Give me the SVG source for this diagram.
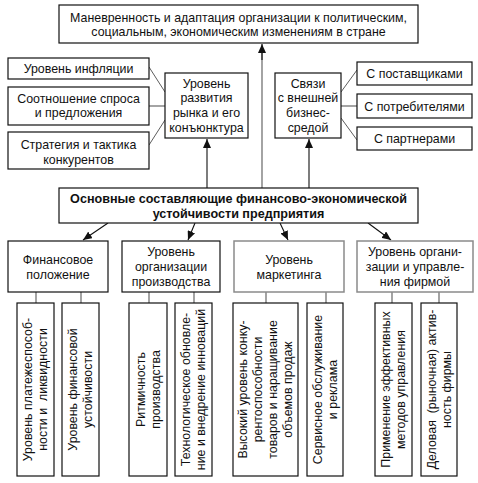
<svg xmlns="http://www.w3.org/2000/svg" width="478" height="483" viewBox="0 0 478 483">
<defs>
<marker id="ah" markerUnits="userSpaceOnUse" markerWidth="10" markerHeight="8" refX="9" refY="4" orient="auto">
<path d="M0,0 L9,4 L0,8 z" fill="#111"/>
</marker>
<style>
.b{fill:#fff;stroke:#111;stroke-width:1.2}
.g{fill:#fff;stroke:#8a8a8a;stroke-width:1.5}
text{font-family:"Liberation Sans",Arial,sans-serif;font-size:12.4px;fill:#111;text-anchor:middle}
.bold{font-weight:bold;font-size:12.6px}
.ln{stroke:#111;stroke-width:1.1;fill:none}
.thin{stroke:#333;stroke-width:0.8;fill:none}
.gl{stroke:#9a9a9a;stroke-width:1.8;fill:none}
</style>
</defs>
<rect width="478" height="483" fill="#fff"/>

<g id="connectors">
<line class="gl" x1="262" y1="188" x2="262" y2="52"/>
<line class="ln" x1="262" y1="60" x2="262" y2="44" marker-end="url(#ah)"/>
<line class="ln" x1="207" y1="188" x2="207" y2="139" marker-end="url(#ah)"/>
<line class="ln" x1="309" y1="188" x2="309" y2="139" marker-end="url(#ah)"/>
<line class="thin" x1="149" y1="67" x2="165" y2="92"/>
<line class="gl" x1="149" y1="106" x2="165" y2="106"/>
<line class="thin" x1="149" y1="145" x2="165" y2="120"/>
<line class="thin" x1="341" y1="92" x2="357" y2="70"/>
<line class="gl" x1="341" y1="106" x2="357" y2="106"/>
<line class="thin" x1="341" y1="118" x2="357" y2="140"/>
<line class="ln" x1="108" y1="223" x2="83" y2="240" marker-end="url(#ah)"/>
<line class="ln" x1="195" y1="223" x2="188" y2="240" marker-end="url(#ah)"/>
<line class="ln" x1="280" y1="223" x2="288" y2="240" marker-end="url(#ah)"/>
<line class="ln" x1="368" y1="223" x2="391" y2="240" marker-end="url(#ah)"/>
<line class="gl" x1="36" y1="292" x2="36" y2="303"/>
<line class="gl" x1="81" y1="292" x2="81" y2="303"/>
<line class="gl" x1="149" y1="292" x2="149" y2="303"/>
<line class="gl" x1="194" y1="292" x2="194" y2="303"/>
<line class="gl" x1="266" y1="292" x2="266" y2="303"/>
<line class="gl" x1="326" y1="292" x2="326" y2="303"/>
<line class="gl" x1="392" y1="292" x2="392" y2="303"/>
<line class="gl" x1="439" y1="292" x2="439" y2="303"/>
</g>

<g id="top">
<rect class="b" x="59" y="5" width="359" height="38"/>
<text x="238.5" y="22">Маневренность и адаптация организации к политическим,</text>
<text x="238.5" y="36">социальным, экономическим изменениям в стране</text>
</g>

<g id="inflation">
<rect class="b" x="8" y="58" width="141" height="21"/>
<text x="78.5" y="72.5">Уровень инфляции</text>
</g>
<g id="supply">
<rect class="b" x="8" y="87" width="141" height="38"/>
<text x="78.5" y="102.5">Соотношение спроса</text>
<text x="78.5" y="117">и предложения</text>
</g>
<g id="strategy">
<rect class="b" x="8" y="132" width="141" height="37"/>
<text x="78.5" y="149">Стратегия и тактика</text>
<text x="78.5" y="163.5">конкурентов</text>
</g>

<g id="market">
<rect class="b" x="165" y="73" width="83" height="65"/>
<text x="206.5" y="87.5">Уровень</text>
<text x="206.5" y="102">развития</text>
<text x="206.5" y="117">рынка и его</text>
<text x="206.5" y="131.5">конъюнктура</text>
</g>

<g id="links">
<rect class="b" x="275" y="73" width="66" height="65"/>
<text x="308" y="87.5">Связи</text>
<text x="308" y="102">с внешней</text>
<text x="308" y="117">бизнес-</text>
<text x="308" y="131.5">средой</text>
</g>

<g id="suppliers">
<rect class="b" x="357" y="62" width="115" height="23"/>
<text x="414.5" y="77.5">С поставщиками</text>
</g>
<g id="consumers">
<rect class="b" x="357" y="94" width="115" height="24"/>
<text x="414.5" y="110.5">С потребителями</text>
</g>
<g id="partners">
<rect class="b" x="357" y="127" width="115" height="23"/>
<text x="414.5" y="143">С партнерами</text>
</g>

<g id="main">
<rect class="b" x="59" y="188" width="359" height="35"/>
<text class="bold" x="238.5" y="202.5">Основные составляющие финансово-экономической</text>
<text class="bold" x="238.5" y="217.5">устойчивости предприятия</text>
</g>

<g id="fin">
<rect class="b" x="8" y="241" width="100" height="51"/>
<text x="58" y="264">Финансовое</text>
<text x="58" y="278.5">положение</text>
</g>
<g id="prod">
<rect class="b" x="122" y="241" width="98" height="51"/>
<text x="171" y="256">Уровень</text>
<text x="171" y="271">организации</text>
<text x="171" y="285.5">производства</text>
</g>
<g id="mkt">
<rect class="g" x="234" y="241" width="110" height="51"/>
<text x="289" y="264">Уровень</text>
<text x="289" y="278.5">маркетинга</text>
</g>
<g id="mgmt">
<rect class="g" x="357" y="241" width="116" height="51"/>
<text x="415" y="256">Уровень органи-</text>
<text x="415" y="271">зации и управле-</text>
<text x="415" y="285.5">ния фирмой</text>
</g>

<g id="solvency">
<rect class="b" x="17" y="303" width="37" height="173"/>
<g transform="translate(35.5,389.5) rotate(-90)">
<text x="0" y="-3.2">Уровень платежеспособ-</text>
<text x="0" y="11.8" xml:space="preserve">ности и  ликвидности</text>
</g>
</g>
<g id="stability">
<rect class="b" x="62" y="303" width="37" height="173"/>
<g transform="translate(80.5,389.5) rotate(-90)">
<text x="0" y="-3.2">Уровень финансовой</text>
<text x="0" y="11.8">устойчивости</text>
</g>
</g>
<g id="rhythm">
<rect class="b" x="129" y="303" width="38" height="173"/>
<g transform="translate(148,389.5) rotate(-90)">
<text x="0" y="-3.2">Ритмичность</text>
<text x="0" y="11.8">производства</text>
</g>
</g>
<g id="tech">
<rect class="b" x="175" y="303" width="37" height="173"/>
<g transform="translate(193.5,389.5) rotate(-90)">
<text x="0" y="-3.2">Технологическое обновле-</text>
<text x="0" y="11.8">ние и внедрение инноваций</text>
</g>
</g>
<g id="compet">
<rect class="b" x="233" y="303" width="65" height="173"/>
<g transform="translate(265.5,389.5) rotate(-90)">
<text x="0" y="-18.2">Высокий уровень конку-</text>
<text x="0" y="-3.2">рентоспособности</text>
<text x="0" y="11.8">товаров и наращивание</text>
<text x="0" y="26.8">объемов продаж</text>
</g>
</g>
<g id="service">
<rect class="b" x="307" y="303" width="36" height="173"/>
<g transform="translate(325,389.5) rotate(-90)">
<text x="0" y="-3.2">Сервисное обслуживание</text>
<text x="0" y="11.8">и реклама</text>
</g>
</g>
<g id="methods">
<rect class="b" x="375" y="303" width="37" height="173"/>
<g transform="translate(393.5,389.5) rotate(-90)">
<text x="0" y="-3.2">Применение эффективных</text>
<text x="0" y="11.8">методов управления</text>
</g>
</g>
<g id="activity">
<rect class="b" x="421" y="303" width="36" height="173"/>
<g transform="translate(439,389.5) rotate(-90)">
<text x="0" y="-3.2" xml:space="preserve">Деловая  (рыночная) актив-</text>
<text x="0" y="11.8">ность фирмы</text>
</g>
</g>
</svg>
